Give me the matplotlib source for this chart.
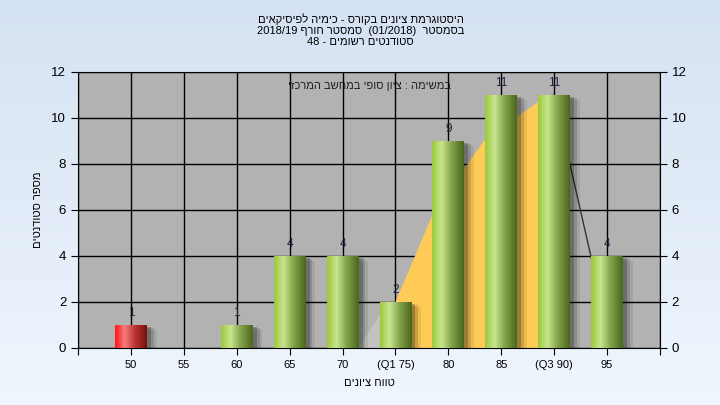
import re
import numpy as np
import matplotlib
matplotlib.use('Agg')
import matplotlib.pyplot as plt
from matplotlib.colors import LinearSegmentedColormap
import matplotlib.patheffects as pe

plt.rcParams['font.family'] = ['Liberation Sans', 'DejaVu Sans']

# data
categories = ['50', '55', '60', '65', '70', '(Q1 75)', '80', '85', '(Q3 90)', '95']
counts = [1, 0, 1, 4, 4, 2, 9, 11, 11, 4]
fail_flags = [True, False, False, False, False, False, False, False, False, False]

# smoothed curve behind the bars
gray_x = [4.3, 4.72, 5.0, 5.0]
gray_y = [0, 1.5, 2.0, 0]
orange_x = [5.0, 5.0, 5.72, 6.7, 7.7, 8.0, 8.0]
orange_y = [0, 2.0, 5.9, 9.1, 10.7, 11.0, 0]
tail_x = [8.0, 9.0]
tail_y = [11.0, 0.9]

title_lines = ['היסטוגרמת ציונים בקורס - כימיה לפיסיקאים',
               'בסמסטר  (01/2018)  סמסטר חורף 2018/19',
               'סטודנטים רשומים - 48']
note = 'במשימה : ציון סופי במחשב המרכזי'
xlabel = 'טווח ציונים'
ylabel = 'מספר סטודנטים'


def heb(s):
    # crude visual ordering for RTL text
    r = s[::-1]
    r = re.sub(r'[0-9A-Za-z/.]+', lambda m: m.group(0)[::-1], r)
    return r.translate(str.maketrans('()', ')('))


fig = plt.figure(figsize=(7.2, 4.05), dpi=100)

# background gradient
bg = fig.add_axes([0, 0, 1, 1], zorder=-10)
bg.imshow(np.linspace(0, 1, 256).reshape(-1, 1), aspect='auto', extent=(0, 1, 0, 1),
          cmap=LinearSegmentedColormap.from_list('bg', ['#d5e2f3', '#eff6fd']))
bg.axis('off')

ax = fig.add_axes([78 / 720, 1 - 348 / 405, 582 / 720, 276 / 405])
ax.set_facecolor('#b2b2b2')
x = np.arange(len(categories))

ax.fill(gray_x, gray_y, color='#c2c2c2', zorder=1.5, lw=0)
ax.fill(orange_x, orange_y, color='#ffcb57', zorder=1.6, lw=0)
ax.plot(tail_x, tail_y, color='#333333', lw=1, zorder=1.7)

green = LinearSegmentedColormap.from_list('g', [(0, '#9cc83a'), (0.3, '#c9e58f'),
                                                 (0.6, '#86a64c'), (1, '#4a661c')])
red = LinearSegmentedColormap.from_list('r', [(0, '#ff1414'), (0.3, '#f67a7a'),
                                               (0.65, '#b83030'), (1, '#761010')])
grad = np.linspace(0, 1, 128).reshape(1, -1)

# soft shadow: a few offset layers
shadow = [pe.SimplePatchShadow(offset=(d, -d / 2), shadow_rgbFace='#000000', alpha=a)
          for d, a in [(7, 0.08), (5, 0.14), (3, 0.22)]]
bars = ax.bar(x, counts, width=0.6, color='#8fb04a', zorder=2.9,
              path_effects=shadow + [pe.Normal()])
for b, v, fail in zip(bars, counts, fail_flags):
    if v == 0:
        continue
    x0 = b.get_x()
    im = ax.imshow(grad, extent=(x0, x0 + b.get_width(), 0, v), aspect='auto',
                   cmap=red if fail else green, zorder=3)
    im.set_clip_path(b)
    ax.text(b.get_x() + b.get_width() / 2, v + 0.25, str(v), ha='center', va='bottom',
            fontsize=8.5, color='#1c2440', zorder=4)

ax.text(4.5, 11.4, heb(note), ha='center', va='center', fontsize=8, color='#202020', zorder=4)

ax.set_xlim(-1, 10)
ax.set_ylim(0, 12)
ax.set_xticks(np.arange(-1, 11))
ax.set_xticklabels([''] + categories + [''], fontsize=8)
ax.set_yticks(np.arange(0, 13, 2))
ax.tick_params(axis='y', labelsize=9.5, length=5, right=True, labelright=True)
ax.tick_params(axis='x', length=5)
ax.grid(True, color='black', lw=1)
ax.set_axisbelow(True)
for s in ax.spines.values():
    s.set_color('black')

ax.set_xlabel(heb(xlabel), fontsize=8, labelpad=6)
ax.set_ylabel(heb(ylabel), fontsize=8, labelpad=6)

fig.text(0.501, 1 - 30 / 405, '\n'.join(heb(t) for t in title_lines), ha='center', va='center',
         fontsize=8, linespacing=1.1)

fig.savefig('out.png', dpi=100)
